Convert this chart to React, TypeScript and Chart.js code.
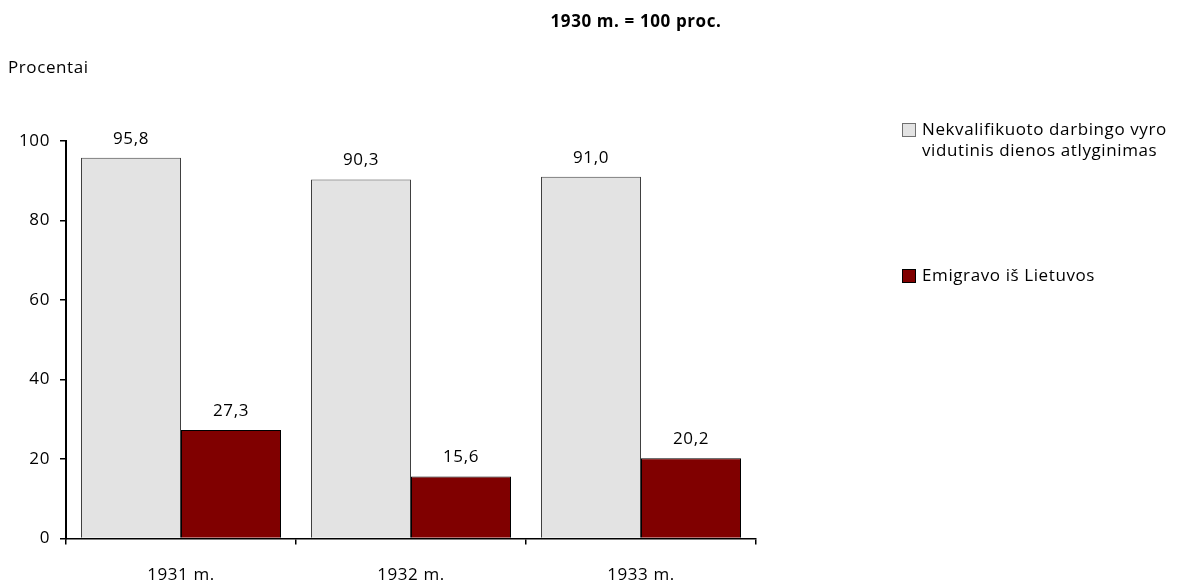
import React, { useEffect, useRef } from "react";
import { Chart, registerables } from "chart.js";

Chart.register(...registerables);

const categories = ["1931 m.", "1932 m.", "1933 m."];
const wageValues = [95.8, 90.3, 91.0];
const emigrationValues = [27.3, 15.6, 20.2];
const yTicks = [0, 20, 40, 60, 80, 100];
const seriesNames = [
  ["Nekvalifikuoto darbingo vyro", "vidutinis dienos atlyginimas"],
  ["Emigravo iš Lietuvos"],
];
const titleText = "1930 m. = 100 proc.";
const yAxisTitle = "Procentai";

const FONT = "'Open Sans', sans-serif";
const FS = 17;
const GRAY = "#e3e3e3";
const RED = "#800000";

export default function App() {
  const canvasRef = useRef<HTMLCanvasElement | null>(null);

  useEffect(() => {
    const canvas = canvasRef.current;
    if (!canvas) return;

    const spacingPlugin = {
      id: "spacingPlugin",
      beforeInit(chart: any) {
        (chart.ctx as any).letterSpacing = "0.6px";
      },
      beforeDraw(chart: any) {
        (chart.ctx as any).letterSpacing = "0.6px";
      },
    };

    const textPlugin = {
      id: "textPlugin",
      afterDraw(chart: any) {
        const ctx = chart.ctx;
        ctx.save();
        (ctx as any).letterSpacing = "0.6px";
        ctx.fillStyle = "#000";
        // title
        ctx.font = `bold ${FS}px ${FONT}`;
        ctx.textAlign = "center";
        ctx.textBaseline = "middle";
        ctx.fillText(titleText, 636, 22);
        // y axis title
        ctx.font = `${FS}px ${FONT}`;
        ctx.textAlign = "left";
        ctx.fillText(yAxisTitle, 8, 68);
        // data labels
        ctx.textAlign = "center";
        chart.data.datasets.forEach((ds: any, i: number) => {
          const meta = chart.getDatasetMeta(i);
          meta.data.forEach((el: any, j: number) => {
            const v = ds.data[j] as number;
            ctx.fillText(v.toFixed(1).replace(".", ","), el.x, el.y - 19);
          });
        });
        // legend
        const colors = [GRAY, RED];
        const borders = ["#707070", "#000"];
        const itemY = [130, 276];
        seriesNames.forEach((lines, i) => {
          ctx.fillStyle = colors[i];
          ctx.fillRect(902.5, itemY[i] - 6.5, 13, 13);
          ctx.strokeStyle = borders[i];
          ctx.lineWidth = 1;
          ctx.strokeRect(902.5, itemY[i] - 6.5, 13, 13);
          ctx.fillStyle = "#000";
          ctx.textAlign = "left";
          lines.forEach((ln, k) => {
            ctx.fillText(ln, 922, itemY[i] + k * 21);
          });
        });
        ctx.restore();
      },
    };

    const chart = new Chart(canvas, {
      type: "bar",
      data: {
        labels: categories,
        datasets: [
          {
            label: seriesNames[0].join(" "),
            data: wageValues,
            backgroundColor: GRAY,
            borderColor: "#404040",
            borderWidth: 1,
            barPercentage: 1,
            categoryPercentage: 200 / 230,
          },
          {
            label: seriesNames[1].join(" "),
            data: emigrationValues,
            backgroundColor: RED,
            borderColor: "#000",
            borderWidth: 1,
            barPercentage: 1,
            categoryPercentage: 200 / 230,
          },
        ],
      },
      options: {
        animation: false,
        responsive: true,
        maintainAspectRatio: false,
        devicePixelRatio: 1,
        layout: { padding: { top: 141, right: 430, bottom: 0, left: 0 } },
        plugins: {
          legend: { display: false },
          title: { display: false },
          tooltip: { enabled: false },
        },
        scales: {
          y: {
            min: 0,
            max: 100,
            afterFit: (scale: any) => {
              scale.width = 66;
            },
            afterBuildTicks: (scale: any) => {
              scale.ticks = yTicks.map((v) => ({ value: v }));
            },
            ticks: {
              color: "#000",
              font: { family: FONT, size: FS },
              padding: 10,
            },
            grid: {
              drawOnChartArea: false,
              drawTicks: true,
              tickLength: 6,
              color: "#000",
              lineWidth: 1.5,
            },
            border: { display: true, color: "#000", width: 2 },
          },
          x: {
            afterFit: (scale: any) => {
              scale.height = 46.5;
            },
            ticks: {
              color: "#000",
              font: { family: FONT, size: FS },
              padding: 20,
            },
            grid: {
              offset: true,
              drawOnChartArea: false,
              drawTicks: true,
              tickLength: 6,
              color: "#000",
              lineWidth: 1.5,
            },
            border: { display: true, color: "#000", width: 1.5 },
          },
        },
      },
      plugins: [spacingPlugin, textPlugin],
    });

    return () => chart.destroy();
  }, []);

  return (
    <div style={{ position: "fixed", left: 0, top: 0, width: 1186, height: 585, background: "#fff" }}>
      <canvas ref={canvasRef} />
    </div>
  );
}
